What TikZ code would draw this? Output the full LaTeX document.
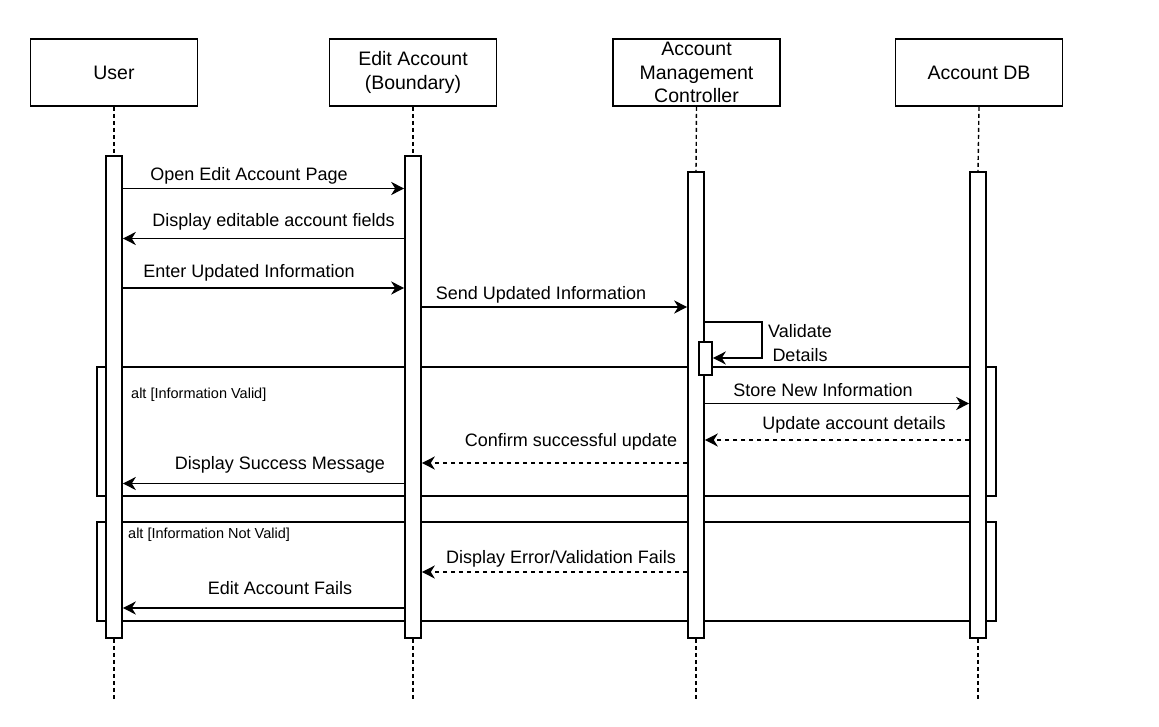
\documentclass[tikz,border=0pt]{standalone}
\usepackage{fontspec}
\setmainfont{Liberation Sans}
\usetikzlibrary{arrows.meta}
\begin{document}
\begin{tikzpicture}[x=1pt,y=-1pt,
  hdr/.style={draw,line width=1.6pt,minimum width=167pt,minimum height=67pt,align=center,font=\fontsize{19.5}{23.5}\selectfont,inner sep=0pt},
  bar/.style={draw,fill=white,line width=1.6pt,minimum width=16pt,inner sep=0pt},
  life/.style={dash pattern=on 4pt off 3pt,line width=1.4pt},
  msg/.style={line width=1.5pt,-{Stealth[length=13pt,width=13pt,inset=4pt]}},
  ret/.style={msg,dash pattern=on 4pt off 4pt},
  lbl/.style={font=\fontsize{18}{21}\selectfont,anchor=base,inner sep=0pt},
  altl/.style={font=\fontsize{14.5}{17}\selectfont,anchor=base west,inner sep=0pt},
  frm/.style={draw,line width=1.5pt}]
\useasboundingbox (0,0) rectangle (1159,727);
% headers
\node[hdr] (u) at (114,72.5) {User};
\node[hdr] (e) at (413,72.5) {Edit Account\\(Boundary)};
\node[hdr] (c) at (696.5,72.5) {Account\\Management\\Controller};
\node[hdr] (d) at (979,72.5) {Account DB};
% lifeline ends
\coordinate (uend) at (114,700);
\coordinate (eend) at (413,700);
\coordinate (cend) at (696,700);
\coordinate (dend) at (978,700);
% frames (behind bars)
\draw[frm] (97,367) rectangle (996,496);
\draw[frm] (97,522) rectangle (996,621);
% activation bars
\node[bar,minimum height=482pt] (ub) at (114,397) {};
\node[bar,minimum height=482pt] (eb) at (413,397) {};
\node[bar,minimum height=466pt] (cb) at (696,405) {};
\node[bar,minimum height=466pt] (db) at (978,405) {};
\node[bar,minimum width=13pt,minimum height=33pt] (sb) at (705.5,358.5) {};
% lifelines
\draw[life] (u.south) -- (ub.north);
\draw[life] (e.south) -- (eb.north);
\draw[life] (c.south) -- (cb.north);
\draw[life] (d.south) -- (db.north);
\draw[life] (ub.south) -- (uend);
\draw[life] (eb.south) -- (eend);
\draw[life] (cb.south) -- (cend);
\draw[life] (db.south) -- (dend);
% message rows
\coordinate (y1) at (0,188.5);
\coordinate (y2) at (0,238.5);
\coordinate (y3) at (0,288);
\coordinate (y4) at (0,307);
\coordinate (y5a) at (0,322);
\coordinate (y5b) at (0,358);
\coordinate (y6) at (0,403.5);
\coordinate (y7) at (0,440);
\coordinate (y8) at (0,463);
\coordinate (y9) at (0,483.5);
\coordinate (y10) at (0,572);
\coordinate (y11) at (0,608);
\coordinate (sx) at (762,0);
% messages
\draw[msg] (ub.east |- y1) -- (eb.west |- y1);
\draw[msg] (eb.west |- y2) -- (ub.east |- y2);
\draw[msg] (ub.east |- y3) -- (eb.west |- y3);
\draw[msg] (eb.east |- y4) -- (cb.west |- y4);
\draw[msg] (cb.east |- y5a) -- (sx |- y5a) -- (sx |- y5b) -- (sb.east |- y5b);
\draw[msg] (cb.east |- y6) -- (db.west |- y6);
\draw[ret] (db.west |- y7) -- (cb.east |- y7);
\draw[ret] (cb.west |- y8) -- (eb.east |- y8);
\draw[msg] (eb.west |- y9) -- (ub.east |- y9);
\draw[ret] (cb.west |- y10) -- (eb.east |- y10);
\draw[msg] (eb.west |- y11) -- (ub.east |- y11);
% labels
\node[lbl] (l1) at (249,180.5) {Open Edit Account Page};
\node[lbl] (l2) at (273.5,227) {Display editable account fields};
\node[lbl] (l3) at (249,278) {Enter Updated Information};
\node[lbl] (l4) at (541,299.5) {Send Updated Information};
\node[lbl] (l5a) at (800,337) {Validate};
\node[lbl] (l5b) at (800,361) {Details};
\node[lbl] (l6) at (823,396.5) {Store New Information};
\node[lbl] (l7) at (854,429.5) {Update account details};
\node[lbl] (l8) at (571,446) {Confirm successful update};
\node[lbl] (l9) at (280,469.5) {Display Success Message};
\node[lbl] (l10) at (561,563) {Display Error/Validation Fails};
\node[lbl] (l11) at (280,594.5) {Edit Account Fails};
\node[altl] (a1) at (131,398) {alt [Information Valid]};
\node[altl] (a2) at (128,538.5) {alt [Information Not Valid]};
\end{tikzpicture}
\end{document}
